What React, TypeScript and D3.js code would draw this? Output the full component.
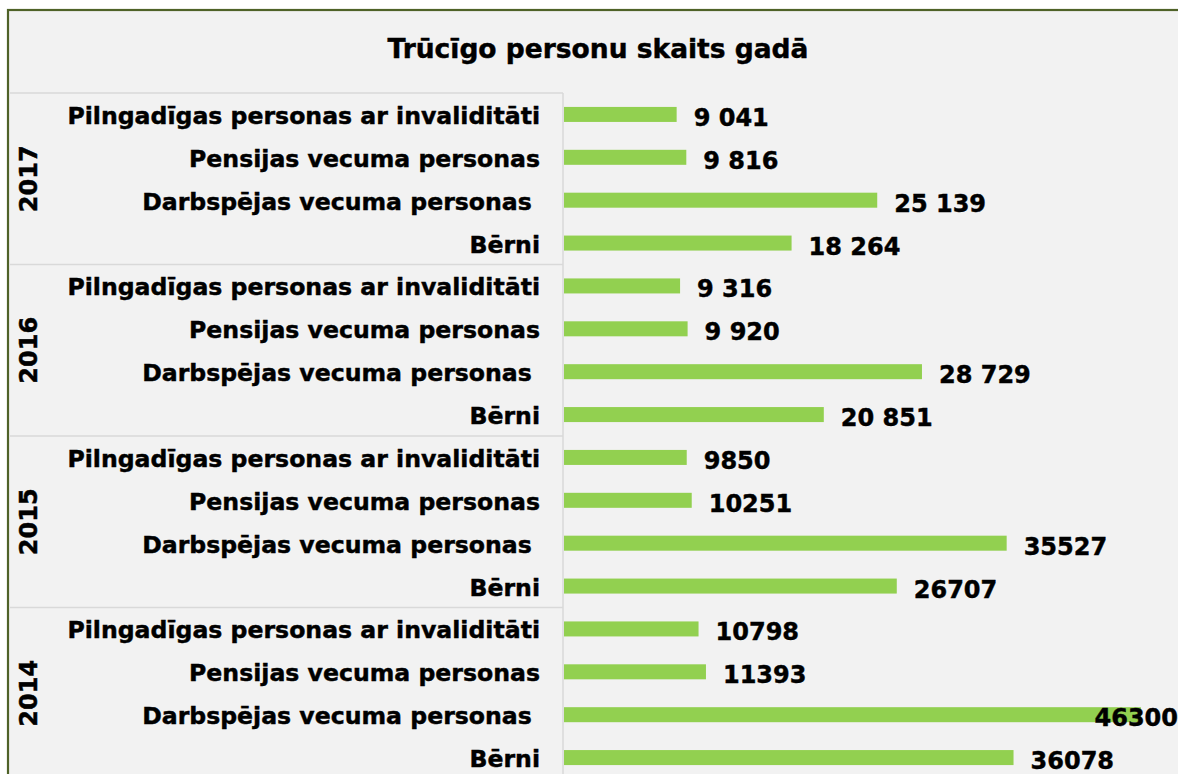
import React from 'react';
import * as d3 from 'd3';

const years = ['2017', '2016', '2015', '2014'];
const categories = [
  'Pilngadīgas personas ar invaliditāti',
  'Pensijas vecuma personas',
  'Darbspējas vecuma personas ',
  'Bērni',
];
// values per year, same order as categories
const values2017 = [9041, 9816, 25139, 18264];
const values2016 = [9316, 9920, 28729, 20851];
const values2015 = [9850, 10251, 35527, 26707];
const values2014 = [10798, 11393, 46300, 36078];
const seriesByYear = [values2017, values2016, values2015, values2014];
// years whose labels are written with a space as thousands separator
const spacedYears = ['2017', '2016'];

const title = 'Trūcīgo personu skaits gadā';

const W = 1178;
const H = 774;
const font = "'DejaVu Sans', Verdana, sans-serif";
const heavy = { stroke: '#000', strokeWidth: 0.45 };

const spaced = d3.formatLocale({ decimal: ',', thousands: ' ', grouping: [3], currency: ['', ''] }).format(',d');

export default function App() {
  const rows = years.flatMap((yr, i) =>
    categories.map((cat, j) => ({ key: `${yr}-${j}`, year: yr, cat, value: seriesByYear[i][j] }))
  );

  const top = 93;
  const rowH = 42.875;
  const y = d3.scaleBand<string>()
    .domain(rows.map(r => r.key))
    .range([top, top + rows.length * rowH])
    .paddingInner(0.65)
    .paddingOuter(0.325);

  const axisX = 563;
  const x = d3.scaleLinear().domain([0, 50000]).range([564, 1187]);
  const groupH = rowH * categories.length;

  const label = (r: typeof rows[number]) =>
    spacedYears.includes(r.year) ? spaced(r.value) : String(r.value);

  return (
    <svg width={W} height={H} style={{ position: 'absolute', left: 0, top: 0, display: 'block' }}>
      <rect x={8} y={10} width={W + 20} height={H + 20} fill="#f2f2f2" stroke="#4f6228" strokeWidth={2.2} />
      <text x={598} y={48} textAnchor="middle" dominantBaseline="central" {...heavy}
        fontFamily={font} fontWeight="bold" fontSize={26.5} fill="#000">{title}</text>

      {years.map((yr, i) => {
        const gy = top + i * groupH;
        return (
          <g key={yr}>
            <line x1={10} x2={axisX} y1={gy} y2={gy} stroke="#d9d9d9" strokeWidth={1.5} />
            <text transform={`translate(29,${gy + groupH / 2}) rotate(-90)`} textAnchor="middle" {...heavy}
              dominantBaseline="central" fontFamily={font} fontWeight="bold" fontSize={24}>{yr}</text>
          </g>
        );
      })}
      <line x1={axisX} x2={axisX} y1={top} y2={H + 10} stroke="#d9d9d9" strokeWidth={1.5} />

      {rows.map(r => {
        const cy = (y(r.key) ?? 0) + y.bandwidth() / 2;
        const end = x(r.value);
        const txt = label(r);
        const approxW = txt.length * 16.5;
        const overflow = end + 17 + approxW > W;
        return (
          <g key={r.key}>
            <text x={540} y={cy + 1.5} textAnchor="end" dominantBaseline="central" style={{ whiteSpace: 'pre' }} {...heavy}
              fontFamily={font} fontWeight="bold" fontSize={23.6}>{r.cat}</text>
            <rect x={x(0)} y={y(r.key)} width={end - x(0)} height={y.bandwidth()} fill="#92d050" />
            <text x={overflow ? W : end + 17} y={cy + 3.5} textAnchor={overflow ? 'end' : 'start'} {...heavy}
              dominantBaseline="central" fontFamily={font} fontWeight="bold" fontSize={24}>{txt}</text>
          </g>
        );
      })}
    </svg>
  );
}
